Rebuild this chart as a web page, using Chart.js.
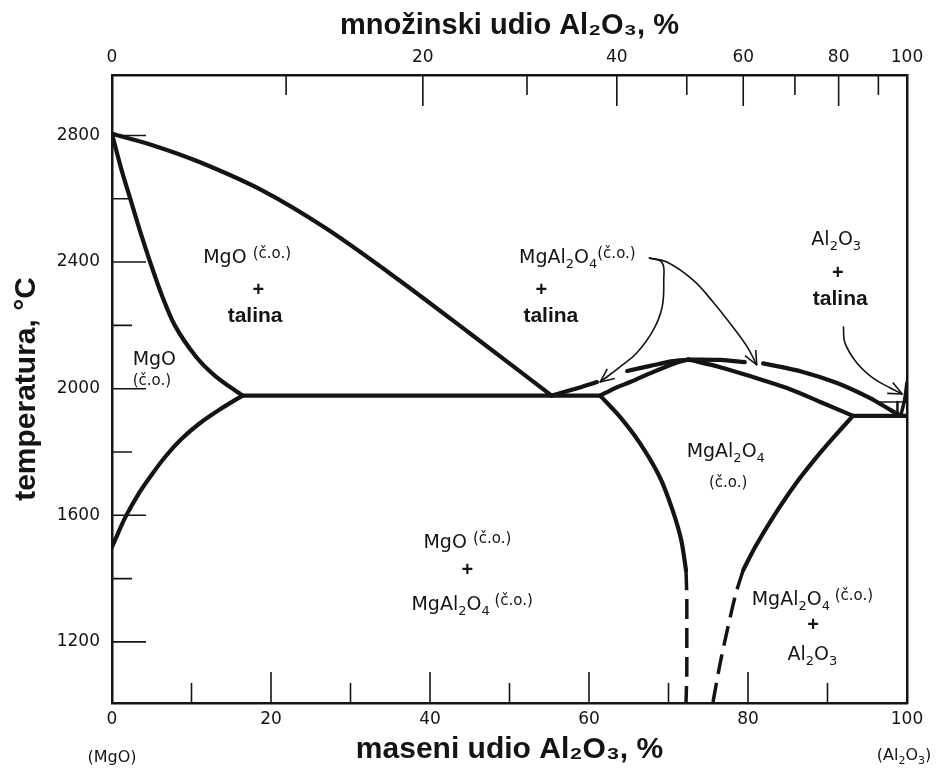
<!DOCTYPE html>
<html>
<head>
<meta charset="utf-8">
<title>MgO - Al2O3</title>
<script src="https://cdn.jsdelivr.net/npm/chart.js@4.4.0/dist/chart.umd.min.js"></script>
<style>
  html, body { margin: 0; padding: 0; background: #fff; }
</style>
</head>
<body>
<canvas id="phaseChart" width="937" height="772"></canvas>
<script>
// axis ticks //
var massTicks = [0, 10, 20, 30, 40, 50, 60, 70, 80, 90, 100];
var massLabels = [0, 20, 40, 60, 80, 100];
// top axis: mole % ticks, sitting at their mass % position
var moleTickAt = [0, 21.9, 39.1, 52.2, 63.5, 72.3, 79.4, 85.9, 91.4, 96.4, 100];
var moleLabels = ['0', '', '20', '', '40', '', '60', '', '80', '', '100'];
var tempTicks = [1200, 1400, 1600, 1800, 2000, 2200, 2400, 2600, 2800];
var tempLabels = [1200, 1600, 2000, 2400, 2800];
var tempMin = 1007, tempMax = 2991;

// phase boundaries: [mass % Al2O3, temperature °C] //
var liqMgO = [[0, 2805], [5, 2770], [11, 2716], [19, 2625], [27, 2505], [36, 2345], [45, 2175], [55.3, 1978]];
var solMgO = [[0, 2805], [1.1, 2700], [2.3, 2600], [3.5, 2500], [4.8, 2400], [6.2, 2300], [7.9, 2200], [10.6, 2100], [13, 2040], [16.4, 1978]];
var solvusMgO = [[16.4, 1978], [13.6, 1935], [11.0, 1890], [8.7, 1840], [6.7, 1785], [4.9, 1725], [3.4, 1670], [1.7, 1595], [0.7, 1540], [0, 1500]];
var eutLeft = [[16.4, 1978], [61.4, 1978]];
var liqSpinelL1 = [[55.3, 1978], [58.2, 1999], [61, 2021]];
var liqSpinelL2 = [[64.8, 2056], [67.7, 2072], [70.5, 2087], [72.5, 2092]];
var solSpinelL = [[61.4, 1978], [63.3, 2002], [65.2, 2021], [68.1, 2053], [71, 2082], [72.5, 2092]];
var liqSpinelR1 = [[72.5, 2092], [76.5, 2091], [79.6, 2084]];
var liqSpinelR2 = [[81.9, 2080], [86.9, 2053], [91.2, 2018], [95.3, 1971], [97.9, 1933], [99.2, 1914]];
var solSpinelR = [[72.5, 2092], [76.5, 2068], [80.6, 2037], [84.9, 2002], [89.1, 1958], [93.2, 1914]];
var eutRight = [[93.2, 1914], [100, 1914]];
var liqAl2O3 = [[99.2, 1914], [99.7, 1965], [100, 2020]];
var ssAlTop = [[96.6, 1958], [100, 1958]];
var ssAlSide = [[98.8, 1958], [98.8, 1914]];
var solvSpinelL = [[61.4, 1978], [63.9, 1911], [66.4, 1828], [68.9, 1721], [70.5, 1617], [71.6, 1522], [72.2, 1427]];
var solvSpinelLdash = [[72.2, 1427], [72.3, 1342], [72.3, 1206], [72.3, 1101], [72.2, 1007]];
var solvSpinelR = [[93.2, 1914], [90.9, 1850], [88.5, 1780], [86.0, 1700], [83.3, 1600], [80.9, 1500], [79.4, 1427]];
var solvSpinelRdash = [[79.4, 1427], [78.5, 1355], [77.4, 1238], [76.5, 1133], [75.6, 1010]];

// pointer arrows from the labels //
var arrow1 = [[67.6, 2413], [69.2, 2398], [69.4, 2343], [69.2, 2258], [68.1, 2186], [66.0, 2113], [63.9, 2069], [61.4, 2021]];
var arrow2 = [[67.6, 2413], [69.8, 2400], [73.1, 2343], [75.6, 2274], [78.1, 2195], [79.9, 2132], [81.1, 2075]];
var arrow3 = [[92.0, 2195], [92.2, 2144], [93.7, 2081], [95.7, 2034], [97.9, 2002], [99.4, 1983]];

var INK = '#141414';
var SANS = "'Liberation Sans', Arial, 'DejaVu Sans', sans-serif";
var WIDE = "'DejaVu Sans', sans-serif";

function line(pts, width, dash, tension) {
    return {
        data: pts.map(function(p) { return { x: p[0], y: p[1] }; }),
        showLine: true,
        borderColor: INK,
        backgroundColor: INK,
        borderWidth: width,
        borderDash: dash || [],
        borderCapStyle: dash ? 'butt' : 'round',
        borderJoinStyle: 'round',
        pointRadius: 0,
        tension: tension === undefined ? 0.3 : tension,
        fill: false
    };
}

// text pieces: [text, size, shift, bold]
var SO = ['(č.o.)', 15, -5];
function spinel() { return [['MgAl', 19], ['2', 13, 5], ['O', 19], ['4', 13, 5]]; }
function alumina() { return [['Al', 19], ['2', 13, 5], ['O', 19], ['3', 13, 5]]; }
var plus = [['+', 20, 0, true]];
var talina = [['talina', 21, 0, true]];

var notes = [
    { x: 17.0, y: 2397, parts: [['MgO ', 19], SO] },
    { x: 18.4, y: 2292, parts: plus },
    { x: 18.0, y: 2211, parts: talina },
    { x: 2.6, y: 2075, parts: [['MgO', 19]], align: 'left' },
    { x: 2.6, y: 2012, parts: [['(č.o.)', 15]], align: 'left' },
    { x: 51.2, y: 2397, parts: spinel().concat([SO]), align: 'left' },
    { x: 54.0, y: 2292, parts: plus },
    { x: 55.2, y: 2211, parts: talina },
    { x: 91.1, y: 2454, parts: alumina() },
    { x: 91.3, y: 2346, parts: plus },
    { x: 91.6, y: 2264, parts: talina },
    { x: 77.2, y: 1784, parts: spinel() },
    { x: 77.5, y: 1689, parts: [['(č.o.)', 15]] },
    { x: 44.7, y: 1497, parts: [['MgO ', 19], SO] },
    { x: 44.7, y: 1408, parts: plus },
    { x: 45.3, y: 1300, parts: spinel().concat([[' (č.o.)', 15, -5]]) },
    { x: 88.1, y: 1316, parts: spinel().concat([[' (č.o.)', 15, -5]]) },
    { x: 88.2, y: 1234, parts: plus },
    { x: 88.1, y: 1142, parts: alumina() }
];

function pieceFont(p) {
    return (p[3] ? 'bold ' : '') + p[1] + 'px ' + (p[3] ? SANS : WIDE);
}

function drawRich(ctx, parts, x, y, align) {
    var total = 0;
    parts.forEach(function(p) { ctx.font = pieceFont(p); total += ctx.measureText(p[0]).width; });
    var cx = align === 'left' ? x : x - total / 2;
    parts.forEach(function(p) {
        ctx.font = pieceFont(p);
        ctx.fillText(p[0], cx, y + (p[2] || 0));
        cx += ctx.measureText(p[0]).width;
    });
}

var overlay = {
    id: 'overlay',
    afterDatasetsDraw: function(chart) {
        var ctx = chart.ctx, area = chart.chartArea;
        var xs = chart.scales.x, ys = chart.scales.y, top = chart.scales.x2;
        ctx.save();
        ctx.strokeStyle = INK;
        ctx.fillStyle = INK;
        ctx.lineWidth = 1.6;

        // inward tick marks
        ctx.beginPath();
        xs.ticks.forEach(function(t) {
            if (t.value <= 0 || t.value >= 100) return;
            var px = xs.getPixelForValue(t.value);
            var len = massLabels.indexOf(t.value) >= 0 ? 31 : 20;
            ctx.moveTo(px, area.bottom);
            ctx.lineTo(px, area.bottom - len);
        });
        top.ticks.forEach(function(t, i) {
            if (t.value <= 0 || t.value >= 100) return;
            var px = top.getPixelForValue(t.value);
            var len = moleLabels[i] ? 31 : 20;
            ctx.moveTo(px, area.top);
            ctx.lineTo(px, area.top + len);
        });
        ys.ticks.forEach(function(t) {
            var py = ys.getPixelForValue(t.value);
            var len = tempLabels.indexOf(t.value) >= 0 ? 34 : 20;
            ctx.moveTo(area.left, py);
            ctx.lineTo(area.left + len, py);
        });
        ctx.stroke();

        // arrow heads
        [arrow1, arrow2, arrow3].forEach(function(a) {
            var p = a[a.length - 1], q = a[a.length - 2];
            var x1 = xs.getPixelForValue(p[0]), y1 = ys.getPixelForValue(p[1]);
            var x0 = xs.getPixelForValue(q[0]), y0 = ys.getPixelForValue(q[1]);
            var ang = Math.atan2(y1 - y0, x1 - x0);
            ctx.beginPath();
            [0.42, -0.42].forEach(function(d) {
                ctx.moveTo(x1, y1);
                ctx.lineTo(x1 - 15 * Math.cos(ang + d), y1 - 15 * Math.sin(ang + d));
            });
            ctx.stroke();
        });

        // region labels
        ctx.textBaseline = 'alphabetic';
        ctx.textAlign = 'left';
        notes.forEach(function(n) {
            drawRich(ctx, n.parts, xs.getPixelForValue(n.x), ys.getPixelForValue(n.y), n.align);
        });

        // end members under the bottom axis
        drawRich(ctx, [['(MgO)', 16]], xs.getPixelForValue(0), area.bottom + 59);
        drawRich(ctx, [['(Al', 16], ['2', 11, 4], ['O', 16], ['3', 11, 4], [')', 16]], xs.getPixelForValue(100) - 3, area.bottom + 57);
        ctx.restore();
    }
};

var datasets = [
    line(liqMgO, 4.2), line(solMgO, 4.2), line(solvusMgO, 4.2), line(eutLeft, 4.2),
    line(liqSpinelL1, 4.2), line(liqSpinelL2, 4.2), line(solSpinelL, 4.2),
    line(liqSpinelR1, 4.2), line(liqSpinelR2, 4.2), line(solSpinelR, 4.2),
    line(eutRight, 4.2), line(liqAl2O3, 3.5), line(ssAlTop, 1.5), line(ssAlSide, 2.5),
    line(solvSpinelL, 4.2), line(solvSpinelLdash, 3.5, [20, 9]),
    line(solvSpinelR, 4.2), line(solvSpinelRdash, 3.5, [20, 9]),
    line(arrow1, 1.6, null, 0.4), line(arrow2, 1.6, null, 0.4), line(arrow3, 1.6, null, 0.4)
];

var phaseChart = new Chart(document.getElementById('phaseChart').getContext('2d'), {
    type: 'scatter',
    data: { datasets: datasets },
    options: {
        responsive: false,
        animation: false,
        devicePixelRatio: 1,
        layout: { padding: { left: 0, right: 30, top: 0, bottom: 0 } },
        plugins: { legend: { display: false }, tooltip: { enabled: false } },
        scales: {
            x: {
                type: 'linear', position: 'bottom', min: 0, max: 100,
                afterBuildTicks: function(s) { s.ticks = massTicks.map(function(v) { return { value: v }; }); },
                afterFit: function(s) { s.height = 69; },
                grid: { display: false, drawTicks: false },
                border: { display: true, color: INK, width: 2.5 },
                ticks: {
                    autoSkip: false, maxRotation: 0, padding: 6, color: INK,
                    font: { family: WIDE, size: 17 },
                    callback: function(v) { return massLabels.indexOf(v) >= 0 ? String(v) : ''; }
                },
                title: {
                    display: true, text: 'maseni udio Al₂O₃, %', color: INK,
                    font: { family: SANS, size: 30, weight: 'bold' },
                    padding: { top: 0, bottom: 4 }
                }
            },
            x2: {
                type: 'linear', position: 'top', min: 0, max: 100,
                afterBuildTicks: function(s) { s.ticks = moleTickAt.map(function(v) { return { value: v }; }); },
                afterFit: function(s) { s.height = 75; },
                grid: { display: false, drawTicks: false },
                border: { display: true, color: INK, width: 2.5 },
                ticks: {
                    autoSkip: false, maxRotation: 0, padding: 7, color: INK,
                    font: { family: WIDE, size: 17 },
                    callback: function(v, i) { return moleLabels[i]; }
                },
                title: {
                    display: true, text: 'množinski udio Al₂O₃, %', color: INK,
                    font: { family: SANS, size: 29, weight: 'bold' },
                    padding: { top: 9, bottom: 0 }
                }
            },
            y: {
                type: 'linear', position: 'left', min: tempMin, max: tempMax,
                afterBuildTicks: function(s) { s.ticks = tempTicks.map(function(v) { return { value: v }; }); },
                afterFit: function(s) { s.width = 112; },
                grid: { display: false, drawTicks: false },
                border: { display: true, color: INK, width: 2.5 },
                ticks: {
                    autoSkip: false, padding: 12, color: INK,
                    font: { family: WIDE, size: 17 },
                    callback: function(v) { return tempLabels.indexOf(v) >= 0 ? String(v) : ''; }
                },
                title: {
                    display: true, text: 'temperatura, °C', color: INK,
                    font: { family: SANS, size: 30, weight: 'bold' },
                    padding: { top: 9, bottom: 0 }
                }
            },
            y2: {
                type: 'linear', position: 'right', min: tempMin, max: tempMax,
                afterFit: function(s) { s.width = 0; },
                grid: { display: false, drawTicks: false },
                border: { display: true, color: INK, width: 2.5 },
                ticks: { display: false }
            }
        }
    },
    plugins: [overlay]
});

document.title = "MgO - Al2O3";
</script>
</body>
</html>
